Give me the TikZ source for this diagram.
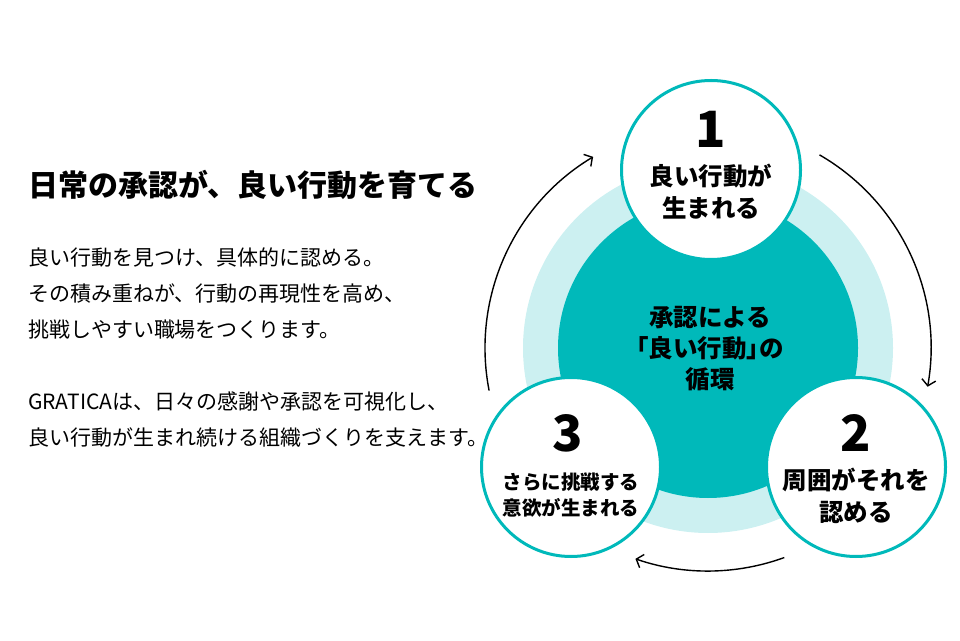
\documentclass[tikz,border=0pt]{standalone}
\usepackage{fontspec}
\setmainfont{Noto Sans CJK JP}
\newfontfamily\jpprop[RawFeature=+palt]{Noto Sans CJK JP}
\definecolor{graTeal}{HTML}{00B9BA}
\definecolor{graMint}{HTML}{CCF0F1}
\usetikzlibrary{arrows.meta, positioning, calc}
\newcommand{\halfbr}[1]{{\jpprop #1}}

\begin{document}
\begin{tikzpicture}[x=1pt, y=1pt,
  stage/.style={circle, draw=graTeal, line width=3pt, fill=white,
    minimum size=179pt, inner sep=0pt},
  stepnum/.style={font=\fontsize{50}{50}\selectfont\bfseries},
  steplabel/.style={align=center, font=\fontsize{24.5}{32}\selectfont\bfseries},
  flow/.style={line width=1.4pt, -{Straight Barb[length=6pt, width=14pt]}},
  lead/.style={anchor=west, align=left, inner sep=0pt,
    font=\fontsize{21}{36}\selectfont}]

  \useasboundingbox (0,0) rectangle (960,640);

  % text on the left
  \node[anchor=west, inner sep=0pt, font=\fontsize{30}{30}\selectfont\bfseries] (title) at (28,455)
    {日常の承認が、良い行動を育てる};
  \node[lead] (lead1) at (28,346) {良い行動を見つけ、具体的に認める。\\
    その積み重ねが、行動の再現性を高め、\\
    挑戦しやすい職場をつくります。};
  \node[lead] (lead2) at (28,220) {GRATICAは、日々の感謝や承認を可視化し、\\
    良い行動が生まれ続ける組織づくりを支えます。};

  % cycle
  \coordinate (hub) at (708,292);
  \fill[graMint] (hub) circle[radius=185];
  \node[circle, fill=graTeal, minimum size=300pt, inner sep=0pt] (core) at (hub) {};
  \node[steplabel, font=\fontsize{24.5}{31}\selectfont\bfseries] (coretext) at (710,291)
    {承認による\\\halfbr{「}良い行動\halfbr{」}の\\循環};

  \coordinate (f1) at ($(hub)+(60:223)$);
  \coordinate (f2) at ($(hub)+(-70:223)$);
  \coordinate (f3) at ($(hub)+(191:223)$);
  \draw[flow] (f1) arc[start angle=60, end angle=-10, radius=223];
  \draw[flow] (f2) arc[start angle=-70, end angle=-109, radius=223];
  \draw[flow] (f3) arc[start angle=191, end angle=121, radius=223];

  \node[stage] (s1) at (711,470) {};
  \node[stage] (s2) at (856,173) {};
  \node[stage] (s3) at (571,173) {};

  \node[stepnum] (n1) at (711,511) {1};
  \node[steplabel] (l1) at (711,448) {良い行動が\\生まれる};
  \node[stepnum] (n2) at (856,207) {2};
  \node[steplabel] (l2) at (856,144) {周囲がそれを\\認める};
  \node[stepnum] (n3) at (568,207) {3};
  \node[steplabel, font=\fontsize{19.5}{26}\selectfont\bfseries] (l3) at (571,145)
    {さらに挑戦する\\意欲が生まれる};
\end{tikzpicture}
\end{document}
